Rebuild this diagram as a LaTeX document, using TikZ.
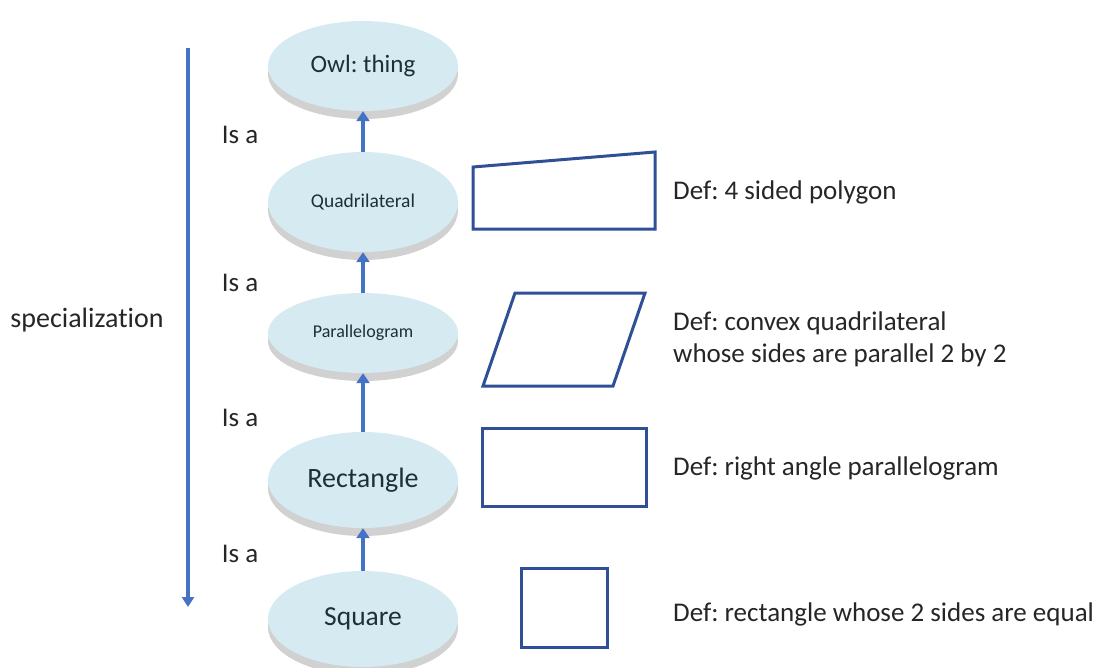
\documentclass[tikz,border=0pt]{standalone}
\usepackage{fontspec}
\setmainfont[Ligatures={NoCommon,NoDiscretionary,NoContextual}]{Carlito}
\usetikzlibrary{arrows.meta,shadows,shapes.geometric}
\definecolor{ellfill}{HTML}{D5EAF1}
\definecolor{ell text}{HTML}{1E2F3A}
\definecolor{arrowblue}{HTML}{4472C4}
\definecolor{shapeblue}{HTML}{2F4F96}
\definecolor{deftext}{HTML}{262626}
\begin{document}
\frenchspacing
\begin{tikzpicture}[x=1pt,y=-1pt,
  classnode/.style={ellipse, fill=ellfill, draw=none, minimum width=190pt, text=ell text,
    inner sep=0pt, drop shadow={shadow xshift=0pt, shadow yshift=-8pt, opacity=0.3, fill=black!60}},
  isa/.style={draw=arrowblue, line width=4pt, -{Triangle[width=13pt,length=10pt]}},
  spec/.style={draw=arrowblue, line width=3.5pt, -{Triangle[width=12pt,length=10pt]}},
  figshape/.style={draw=shapeblue, line width=3pt, line join=miter},
  lbl/.style={text=deftext, font=\fontsize{27}{32}\selectfont, inner sep=0pt},
  deflbl/.style={lbl, anchor=west, align=left}
]
\useasboundingbox (0,0) rectangle (1110,667);

% ontology ellipses
\node[classnode, minimum height=90pt, font=\fontsize{25}{30}\selectfont] (owl) at (363,66) {Owl: thing};
\node[classnode, minimum height=100pt, font=\fontsize{19.5}{24}\selectfont] (quad) at (363,202) {Quadrilateral};
\node[classnode, minimum height=80pt, font=\fontsize{18}{22}\selectfont] (para) at (363,333) {Parallelogram};
\node[classnode, minimum height=96pt, font=\fontsize{28}{32}\selectfont] (rect) at (363,480) {Rectangle};
\node[classnode, minimum height=96pt, font=\fontsize{27.5}{32}\selectfont] (sq) at (363,619) {Square};

% is-a arrows
\draw[isa] (quad.north) -- (owl.south);
\draw[isa] (para.north) -- (quad.south);
\draw[isa] (rect.north) -- (para.south);
\draw[isa] (sq.north) -- (rect.south);

% is-a labels
\node[lbl] (isa1) at (240,135) {Is a};
\node[lbl] (isa2) at (240,283) {Is a};
\node[lbl] (isa3) at (240,418) {Is a};
\node[lbl] (isa4) at (240,554) {Is a};

% specialization arrow
\coordinate (specTop) at (188,48);
\coordinate (specBot) at (188,607);
\draw[spec] (specTop) -- (specBot);
\node[lbl, font=\fontsize{28}{32}\selectfont] (speclbl) at (87,320) {specialization};

% figures
\draw[figshape] (473,167) -- (655,152) -- (655,229) -- (473,229) -- cycle;
\draw[figshape] (515,293) -- (645,293) -- (613,386) -- (483,386) -- cycle;
\draw[figshape] (482,428) rectangle (646,506);
\draw[figshape] (521,568) rectangle (607,647);

% definitions
\node[deflbl] (def1) at (673,192) {Def: 4 sided polygon};
\node[deflbl] (def2) at (673,339) {Def: convex quadrilateral\\whose sides are parallel 2 by 2};
\node[deflbl] (def3) at (673,468) {Def: right angle parallelogram};
\node[deflbl] (def4) at (673,614) {Def: rectangle whose 2 sides are equal};
\end{tikzpicture}
\end{document}
